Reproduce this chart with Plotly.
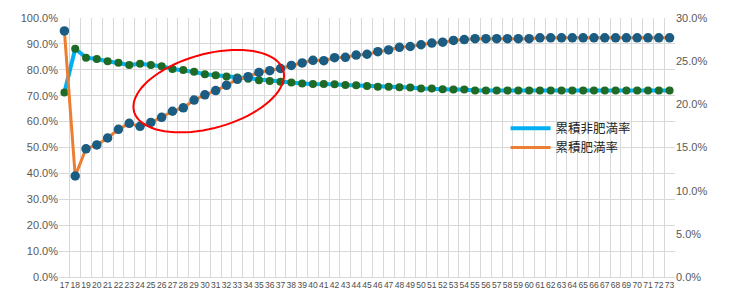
import numpy as np
import plotly.graph_objects as go

ages = [str(a) for a in range(17, 74)]

non_obese = [71.2, 88.1, 84.7, 84.2, 83.3, 82.7, 81.9, 82.3, 81.9, 81.4,
             80.3, 79.9, 79.2, 78.3, 77.9, 77.4, 77.0, 76.5, 76.0, 75.7,
             75.4, 75.1, 74.7, 74.5, 74.5, 74.4, 74.1, 74.0, 73.7, 73.5,
             73.5, 73.3, 73.2, 72.8, 72.8, 72.5, 72.4, 72.4, 72.0, 72.0,
             72.0, 72.0, 72.0, 72.0, 72.0, 72.0, 72.0, 72.0, 72.0, 72.0,
             72.0, 72.0, 72.0, 72.0, 72.0, 72.0, 72.0]

obese = [28.5, 11.7, 14.85, 15.3, 16.1, 17.1, 17.8, 17.45, 17.9, 18.5,
         19.2, 19.6, 20.5, 21.1, 21.6, 22.2, 22.9, 23.2, 23.7, 23.9,
         24.15, 24.5, 24.8, 25.1, 25.05, 25.4, 25.45, 25.7, 25.8, 26.1,
         26.3, 26.6, 26.7, 26.9, 27.1, 27.2, 27.4, 27.5, 27.6, 27.6,
         27.6, 27.6, 27.6, 27.6, 27.7, 27.7, 27.7, 27.7, 27.7, 27.7,
         27.7, 27.7, 27.7, 27.7, 27.7, 27.7, 27.7]

non_obese_f = [v / 100 for v in non_obese]
obese_f = [v / 100 for v in obese]

CYAN = "#00B0F0"
ORANGE = "#ED7D31"
GREEN_M = "#1F6B25"
BLUE_M = "#1A5C82"
GRID = "#D9D9D9"
TXT = "#595959"

fig = go.Figure()
fig.add_trace(go.Scatter(x=ages, y=non_obese_f, mode="lines", name="累積非肥満率",
                         line=dict(color=CYAN, width=4), yaxis="y", legend="legend"))
fig.add_trace(go.Scatter(x=ages, y=non_obese_f, mode="markers", showlegend=False,
                         marker=dict(color=GREEN_M, size=8), yaxis="y"))
fig.add_trace(go.Scatter(x=ages, y=obese_f, mode="lines", name="累積肥満率",
                         line=dict(color=ORANGE, width=3), yaxis="y2", legend="legend2"))
fig.add_trace(go.Scatter(x=ages, y=obese_f, mode="markers", showlegend=False,
                         marker=dict(color=BLUE_M, size=9.5), yaxis="y2"))

# ellipse highlight (pixel geometry -> paper coords)
L, R, T, B = 59, 675, 15, 277
cx, cy = 208.7, 89.0
t = np.linspace(0, 2 * np.pi, 81)
px = cx + 75.3 * np.cos(t)
py = cy - 15.8 * np.cos(t) + 38.6 * np.sin(t)
xs = (px - L) / (R - L)
ys = (B - py) / (B - T)
path = "M " + " L ".join(f"{a:.4f},{b:.4f}" for a, b in zip(xs, ys)) + " Z"
fig.add_shape(type="path", path=path, xref="paper", yref="paper",
              line=dict(color="#FF0000", width=2), layer="above")

leg_common = dict(xanchor="left", yanchor="middle", bgcolor="rgba(255,255,255,0)",
                  font=dict(family="Noto Sans CJK JP", size=12.5, color="#262626"),
                  itemwidth=40)

fig.update_layout(
    width=730, height=302,
    margin=dict(l=L, r=730 - R, t=T, b=302 - B),
    plot_bgcolor="white", paper_bgcolor="white",
    font=dict(family="Liberation Sans, Arial, sans-serif", color=TXT),
    xaxis=dict(type="category", tickson="boundaries", showgrid=True, gridcolor=GRID,
               gridwidth=1, ticks="", tickangle=0, tickfont=dict(size=8.5, color="#4d4d4d"),
               showline=True, linecolor=GRID, range=[-0.5, 56.5]),
    yaxis=dict(range=[0, 1], dtick=0.1, tickformat=".1%", showgrid=True,
               gridcolor=GRID, zeroline=False, ticks="", tickfont=dict(size=11, color=TXT)),
    yaxis2=dict(range=[0, 0.3], dtick=0.05, tickformat=".1%", overlaying="y",
                side="right", showgrid=False, zeroline=False, ticks="",
                tickfont=dict(size=11, color=TXT)),
    legend=dict(x=0.725, y=(B - 127) / (B - T), **leg_common),
    legend2=dict(x=0.725, y=(B - 146.5) / (B - T), **leg_common),
    showlegend=True,
)

fig.write_html("out.html")
